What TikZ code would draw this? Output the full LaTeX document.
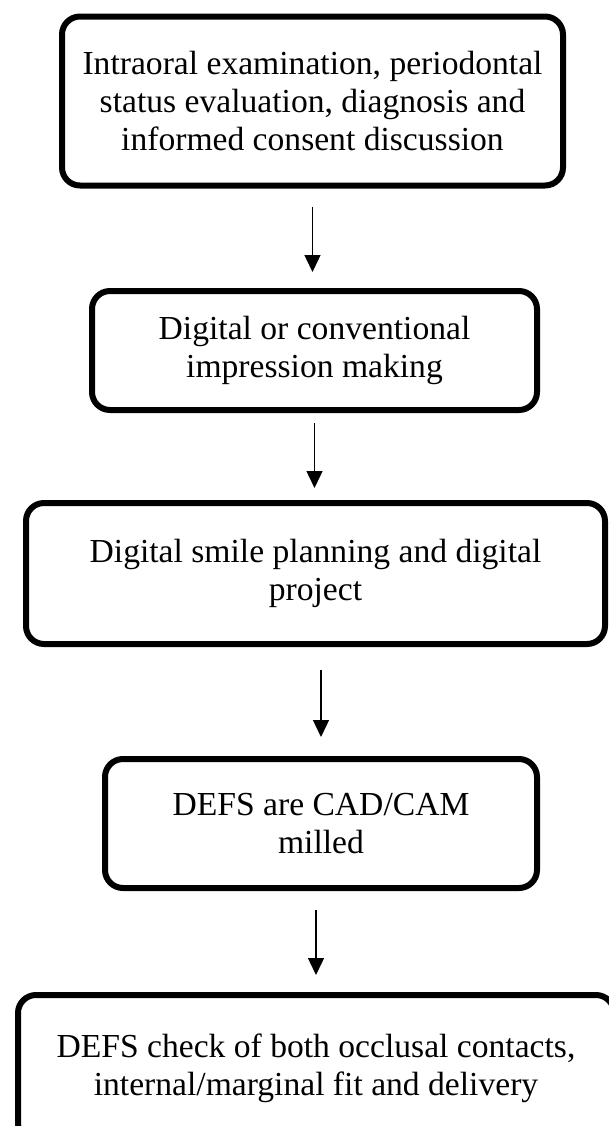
\documentclass[tikz,border=0pt]{standalone}
\usepackage{fontspec}
\setmainfont{Liberation Serif}
\usetikzlibrary{arrows.meta}

\begin{document}
\begin{tikzpicture}[
      x=0.5pt, y=-0.5pt,
      arr/.style={-{Triangle[length=8.5pt,width=8pt]}, line width=0.7pt, black},
      stage/.style={draw=black, line width=3pt, rounded corners=9pt, fill=white,
                    align=center, inner sep=0pt, font=\fontsize{16.8}{18.9}\selectfont}
    ]
    \useasboundingbox (0,0) rectangle (609,1126);
    \node[stage, minimum width=250.5pt, minimum height=84.5pt] (s1) at (312.5,101) {%
      Intraoral examination, periodontal\\
      status evaluation, diagnosis and\\
      informed consent discussion};
    \node[stage, minimum width=222.5pt, minimum height=59.5pt] (s2) at (314.5,350.5) {%
      Digital or conventional\\
      impression making};
    \node[stage, minimum width=289.5pt, minimum height=70.5pt] (s3) at (315.5,573.5) {%
      Digital smile planning and digital\\
      project};
    \node[stage, minimum width=216pt, minimum height=64.5pt] (s4) at (321,823.5) {%
      DEFS are CAD/CAM\\
      milled};
    \node[stage, minimum width=298pt, minimum height=73pt] (s5) at (316,1068) {%
      DEFS check of both occlusal contacts,\\
      internal/marginal fit and delivery};
    \draw[arr, shorten <=9pt, shorten >=8pt] (s1.south) -- (s1.south |- s2.north);
    \draw[arr, shorten <=5pt, shorten >=6pt] (s2.south) -- (s2.south |- s3.north);
    \draw[arr, shorten <=11.5pt, shorten >=9.5pt] (s3.south -| s4) -- (s4.north);
    \draw[arr, shorten <=9.5pt, shorten >=8.5pt] (s4.south -| s5) -- (s5.north);
  \end{tikzpicture}
\end{document}
